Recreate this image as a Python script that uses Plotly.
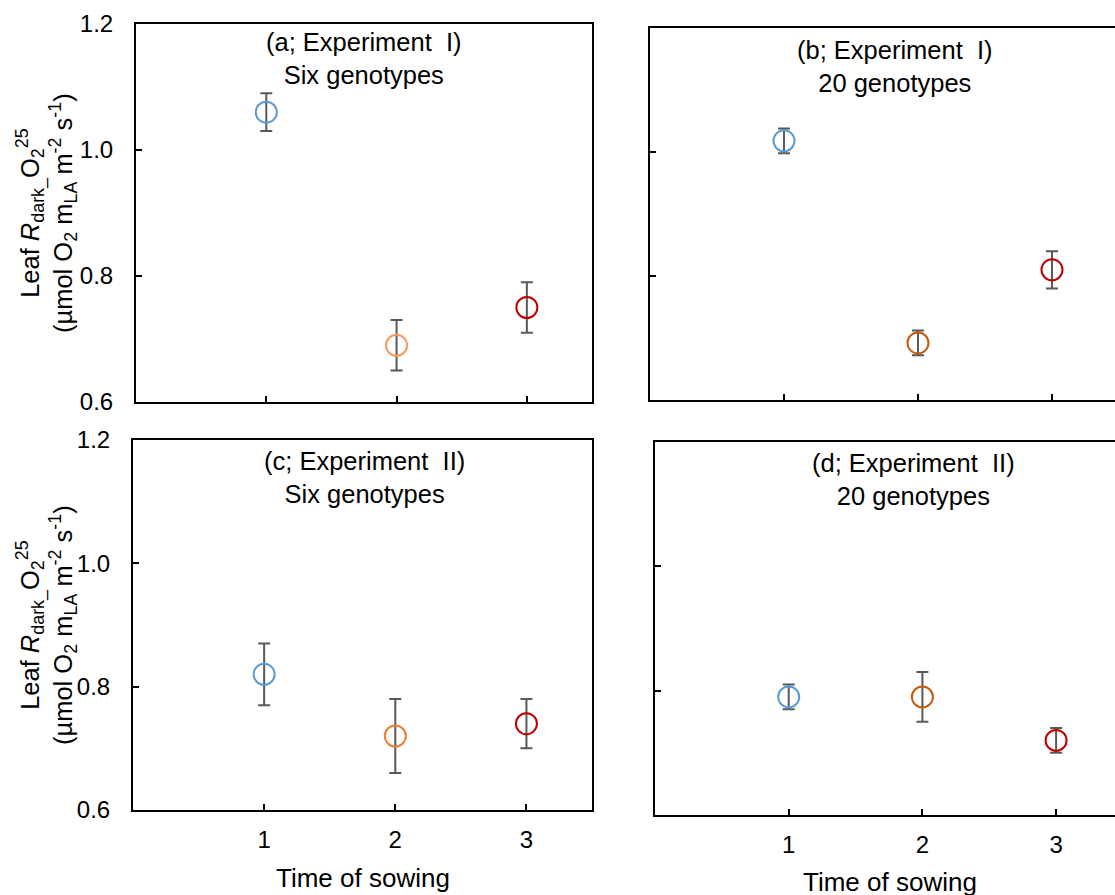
import plotly.graph_objects as go

# ---- data ----
sowing = [1, 2, 3]
a_mean = [1.06, 0.69, 0.75]
a_err = [0.03, 0.04, 0.04]
b_mean = [1.018, 0.692, 0.81]
b_err = [0.02, 0.02, 0.03]
c_mean = [0.82, 0.72, 0.74]
c_err = [0.05, 0.06, 0.04]
d_mean = [0.79, 0.79, 0.72]
d_err = [0.02, 0.04, 0.02]

a_colors = ["#5B9BD5", "#F79A5B", "#C00000"]
b_colors = ["#5B9BD5", "#C55A11", "#C00000"]
c_colors = ["#5B9BD5", "#ED7D31", "#C00000"]
d_colors = ["#5B9BD5", "#C55A11", "#C00000"]

titles = ["(a; Experiment\u00a0 I)<br>Six genotypes",
          "(b; Experiment\u00a0 I)<br>20 genotypes",
          "(c; Experiment\u00a0 II)<br>Six genotypes",
          "(d; Experiment\u00a0 II)<br>20 genotypes"]
y_ticks = [0.6, 0.8, 1.0, 1.2]
y_ticktext = ["0.6", "0.8", "1.0", "1.2"]
x_title = "Time of sowing"
y_title = ("Leaf <i>R</i><sub>dark_</sub>O<sub>2</sub><sup>25</sup><br>"
           "(µmol O<sub>2</sub> m<sub>LA</sub> m<sup>-2</sup> s<sup>-1</sup>)")

W, H = 1115, 895
FONT = "Arial, Liberation Sans, sans-serif"
FS_TICK = 24
FS_TITLE = 25.5
FS_AX = 26


def px_x(p):
    return p / W


def px_y(p):
    return 1 - p / H


# panel geometry (pixels): left, right, top, bottom, xmax
panels = [
    dict(l=136, r=592, t=24, b=402, xmax=3.5),
    dict(l=650, r=1115, t=28, b=400, xmax=(1115 - 650) / 134.0),
    dict(l=133, r=592, t=440, b=810, xmax=3.5),
    dict(l=655, r=1115, t=442, b=815, xmax=(1115 - 655) / 133.7),
]
means = [a_mean, b_mean, c_mean, d_mean]
errs = [a_err, b_err, c_err, d_err]
colors = [a_colors, b_colors, c_colors, d_colors]

fig = go.Figure()
layout = dict(
    width=W, height=H,
    margin=dict(l=0, r=0, t=0, b=0, autoexpand=False),
    paper_bgcolor="white", plot_bgcolor="white",
    showlegend=False,
    font=dict(family=FONT, size=FS_TICK, color="black"),
)
annotations = []

for i, p in enumerate(panels):
    n = "" if i == 0 else str(i + 1)
    fig.add_trace(go.Scatter(
        x=sowing, y=means[i],
        mode="markers",
        xaxis="x" + n, yaxis="y" + n,
        marker=dict(symbol="circle-open", size=21, color=colors[i],
                    line=dict(width=2, color=colors[i])),
        error_y=dict(type="data", array=errs[i], visible=True,
                     color="#595959", thickness=2, width=6),
        cliponaxis=False,
    ))
    left_col = i in (0, 2)
    bottom_row = i in (2, 3)
    layout["xaxis" + n] = dict(
        domain=[px_x(p["l"]), min(1.0, px_x(p["r"]))],
        anchor="y" + n,
        range=[0, p["xmax"]],
        tickvals=sowing, ticktext=[str(s) for s in sowing],
        showticklabels=bottom_row,
        ticks="inside", ticklen=6, tickwidth=2, tickcolor="black",
        showline=True, linewidth=2, linecolor="black", mirror=True,
        showgrid=False, zeroline=False, automargin=False,
        tickfont=dict(size=FS_TICK, color="black", family=FONT),
        ticklabelstandoff=7,
    )
    layout["yaxis" + n] = dict(
        domain=[px_y(p["b"]), px_y(p["t"])],
        anchor="x" + n,
        range=[0.6, 1.2],
        tickvals=y_ticks, ticktext=y_ticktext,
        showticklabels=left_col,
        ticks="inside", ticklen=6, tickwidth=2, tickcolor="black",
        showline=True, linewidth=2, linecolor="black", mirror=left_col,
        showgrid=False, zeroline=False, automargin=False,
        tickfont=dict(size=FS_TICK, color="black", family=FONT),
        ticklabelstandoff=16,
    )

# panel titles
title_pos = [(364, 59), (895, 66), (364, 477), (914, 479)]
for t, (cx, cy) in zip(titles, title_pos):
    annotations.append(dict(
        text=t, x=px_x(cx), y=px_y(cy), xref="paper", yref="paper",
        xanchor="center", yanchor="middle", showarrow=False,
        font=dict(size=FS_TITLE, family=FONT, color="black"), align="center"))

# y titles
for cy in (213, 625):
    annotations.append(dict(
        text=y_title, x=px_x(46), y=px_y(cy), xref="paper", yref="paper",
        xanchor="center", yanchor="middle", showarrow=False, textangle=-90,
        font=dict(size=FS_TITLE, family=FONT, color="black"), align="center"))

# x titles
for cx, cy in ((363, 878), (890, 882)):
    annotations.append(dict(
        text=x_title, x=px_x(cx), y=px_y(cy), xref="paper", yref="paper",
        xanchor="center", yanchor="middle", showarrow=False,
        font=dict(size=FS_AX, family=FONT, color="black")))

layout["annotations"] = annotations
fig.update_layout(**layout)
fig.write_html(
    "out.html",
    config={"displayModeBar": False},
    post_script="document.body.style.margin='0';document.body.style.overflow='hidden';",
)
